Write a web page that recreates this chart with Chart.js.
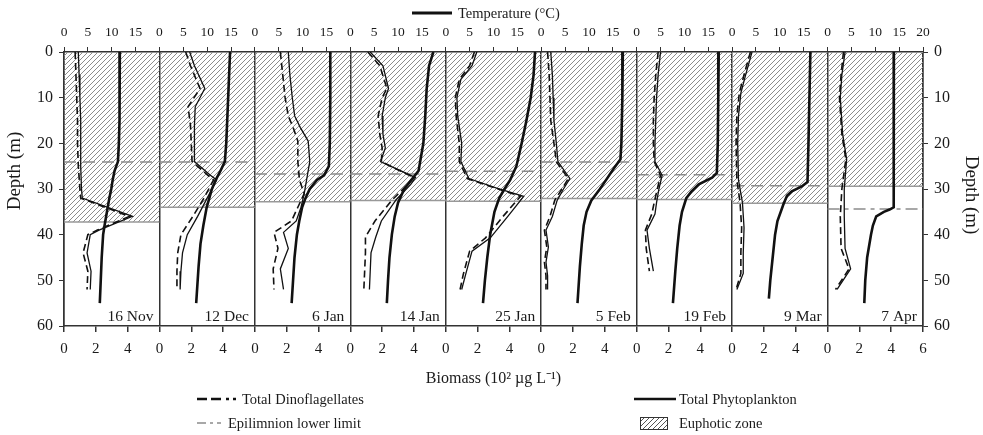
<!DOCTYPE html>
<html>
<head>
<meta charset="utf-8">
<script src="https://cdn.jsdelivr.net/npm/chart.js@4.4.1/dist/chart.umd.min.js"></script>
<style>
  body { margin: 0; background: #fff; }
  #wrap { position: relative; width: 983px; height: 435px; font-family: 'Liberation Serif', serif; color: #1a1a1a; }
  #chart { position: absolute; left: 0; top: 0; }
  .lg { position: absolute; display: flex; align-items: center; height: 16px; font-size: 14.5px; white-space: nowrap; }
</style>
</head>
<body>
<div id="wrap">
  <canvas id="chart" width="983" height="435"></canvas>

  <div class="lg" style="left:412px; top:5px;">
    <svg width="40" height="10"><line x1="0" y1="5" x2="40" y2="5" stroke="#111" stroke-width="3"/></svg>
    <span style="margin-left:6px">Temperature (°C)</span>
  </div>
  <div class="lg" style="left:197px; top:391px;">
    <svg width="39" height="10"><line x1="0" y1="5" x2="39" y2="5" stroke="#111" stroke-width="2.5" stroke-dasharray="10 4 10 5 3 4"/></svg>
    <span style="margin-left:6px">Total Dinoflagellates</span>
  </div>
  <div class="lg" style="left:197px; top:415px;">
    <svg width="24" height="10"><line x1="0" y1="5" x2="24" y2="5" stroke="#8c8c8c" stroke-width="1.5" stroke-dasharray="9 4 3 4"/></svg>
    <span style="margin-left:7px">Epilimnion lower limit</span>
  </div>
  <div class="lg" style="left:634px; top:391px;">
    <svg width="42" height="10"><line x1="0" y1="5" x2="42" y2="5" stroke="#111" stroke-width="2.5"/></svg>
    <span style="margin-left:3px">Total Phytoplankton</span>
  </div>
  <div class="lg" style="left:640px; top:415px;">
    <canvas id="swatch" width="28" height="13"></canvas>
    <span style="margin-left:11px">Euphotic zone</span>
  </div>
</div>

<script>
// --- DADOS ---
const dates = ['16 Nov', '12 Dec', '6 Jan', '14 Jan', '25 Jan', '5 Feb', '19 Feb', '9 Mar', '7 Apr'];
const euphoticDepth = [37.2, 34.0, 32.8, 32.5, 32.7, 32.1, 32.3, 33.1, 29.4];
const epilimnionDepth = [24.1, 24.1, 26.7, 26.7, 26.1, 24.1, 26.9, 29.3, 34.4];

const biomassTicks = ['0', '2', '4', '6'];
const tempTicks = ['0', '5', '10', '15', '20'];
const depthTicks = [0, 10, 20, 30, 40, 50, 60];

// temperature profiles (depth, °C)
const tempDepths = [
  [0, 5, 10, 15, 20, 24, 26, 28, 30, 32, 35, 38, 40, 45, 50, 55],
  [0, 5, 10, 15, 20, 24, 26, 28, 30, 34, 38, 42, 47, 55],
  [0, 10, 20, 25, 27, 28, 30, 32, 34, 37, 40, 45, 50, 55],
  [0, 3, 8, 14, 20, 26, 28, 30, 33, 36, 40, 45, 50, 55],
  [0, 5, 10, 15, 20, 25, 28, 30, 32, 35, 40, 45, 50, 55],
  [0, 10, 20, 23.5, 25.5, 28, 30, 32.5, 35, 38, 42, 47, 55],
  [0, 10, 20, 26.5, 27.5, 29, 30.5, 32, 35, 38, 43, 48, 55],
  [0, 10, 20, 28.5, 29.5, 30.5, 31.5, 33.5, 37, 40, 45, 50, 54],
  [0, 10, 20, 30, 34, 34.5, 35, 36, 38, 40, 45, 50, 55]
];
const tempValues = [
  [11.7, 11.7, 11.6, 11.6, 11.5, 11.3, 10.6, 10.2, 9.9, 9.5, 9.0, 8.5, 8.2, 7.9, 7.7, 7.5],
  [14.8, 14.6, 14.4, 14.2, 14.0, 13.7, 12.8, 11.8, 11.0, 9.9, 9.2, 8.6, 8.2, 7.7],
  [15.8, 15.8, 15.7, 15.5, 14.5, 13.0, 11.5, 10.6, 9.9, 9.3, 8.8, 8.3, 8.0, 7.7],
  [17.4, 16.5, 16.0, 15.7, 15.3, 14.3, 12.8, 11.3, 10.0, 9.3, 8.7, 8.2, 7.9, 7.65],
  [18.7, 18.4, 17.8, 16.9, 15.9, 14.8, 13.5, 12.3, 11.2, 10.2, 9.3, 8.7, 8.2, 7.8],
  [17.1, 17.0, 16.8, 16.6, 15.2, 13.6, 12.3, 10.5, 9.5, 8.9, 8.5, 8.1, 7.6],
  [17.2, 17.1, 17.0, 16.8, 15.8, 13.0, 11.5, 10.4, 9.5, 9.0, 8.5, 8.1, 7.6],
  [16.4, 16.2, 16.0, 15.8, 14.5, 12.5, 11.5, 10.7, 9.5, 9.0, 8.5, 8.0, 7.7],
  [13.9, 13.9, 13.9, 13.85, 13.8, 13.0, 11.8, 10.2, 9.5, 9.1, 8.3, 7.9, 7.7]
];

// biomass profiles (depth, 10^2 µg/L)
const sampleDepths = [
  [0, 5, 10, 15, 20, 25, 30, 32, 36, 39, 40, 44, 48, 52],
  [0, 3, 8, 12, 16, 20, 24, 27, 28, 32, 36, 40, 44, 48, 52],
  [0, 5, 10, 14, 16.5, 19.5, 24, 28, 31, 34, 37, 39.5, 43, 47.5, 52],
  [0, 3, 8, 10, 14, 18, 21, 24, 27.5, 29, 32.5, 37, 40.5, 44, 48, 52],
  [0, 3, 6, 10, 14, 20, 24, 27.7, 29.8, 31.6, 36, 40.7, 43.6, 48.7, 52],
  [0, 5, 10, 15, 20, 24, 27.7, 30, 32.5, 36, 39, 42.7, 46, 49, 52],
  [0, 5, 10, 15, 20, 24, 27, 30, 33, 35.5, 39, 43, 48],
  [0, 5, 9, 14, 20, 28, 33, 38.5, 44, 48.5, 52],
  [0, 5, 10, 18, 23.5, 30, 36, 43, 47.5, 52]
];
const phytoBiomass = [
  [0.9, 0.95, 1.0, 1.05, 1.05, 1.05, 1.1, 1.15, 4.3, 2.2, 1.65, 1.45, 1.7, 1.65],
  [1.9, 2.2, 2.85, 2.25, 2.2, 2.2, 2.2, 3.2, 3.6, 3.0, 2.4, 1.75, 1.45, 1.35, 1.3],
  [2.1, 2.2, 2.35, 2.5, 2.85, 3.35, 3.45, 3.25, 3.1, 2.9, 2.6, 1.8, 2.1, 1.6, 1.8],
  [1.25, 2.05, 2.4, 2.2, 2.0, 2.05, 2.2, 1.9, 4.1, 3.8, 2.85, 1.95, 1.6, 1.3, 1.25, 1.2],
  [1.95, 1.65, 0.95, 0.7, 0.75, 1.0, 0.95, 1.45, 3.2, 4.9, 3.9, 2.8, 1.65, 1.25, 1.0],
  [0.6, 0.7, 0.75, 0.8, 0.95, 1.05, 1.8, 1.4, 1.0, 0.7, 0.3, 0.45, 0.3, 0.4, 0.4],
  [1.5, 1.35, 1.25, 1.2, 1.15, 1.15, 1.6, 1.4, 1.25, 1.15, 0.65, 0.8, 1.05],
  [1.25, 0.85, 0.55, 0.4, 0.35, 0.4, 0.65, 0.75, 0.7, 0.7, 0.3],
  [1.1, 0.9, 0.8, 0.95, 1.2, 1.05, 1.05, 1.1, 1.45, 0.6]
];
const dinoBiomass = [
  [0.7, 0.75, 0.8, 0.85, 0.85, 0.9, 1.0, 1.05, 4.1, 2.1, 1.5, 1.2, 1.5, 1.45],
  [1.65, 1.95, 2.55, 1.8, 1.95, 2.0, 2.05, 3.05, 3.4, 2.8, 2.1, 1.35, 1.15, 1.1, 1.1],
  [1.6, 1.75, 1.9, 2.1, 2.4, 2.7, 2.7, 2.8, 3.1, 2.7, 2.3, 1.2, 1.45, 1.15, 1.2],
  [1.1, 1.85, 2.3, 2.0, 1.75, 1.85, 2.0, 1.95, 4.0, 3.6, 2.6, 1.55, 0.95, 0.95, 0.9, 0.85],
  [1.8, 1.5, 0.85, 0.6, 0.65, 0.85, 0.85, 1.35, 3.1, 4.7, 3.6, 2.5, 1.5, 1.1, 0.9],
  [0.4, 0.5, 0.55, 0.6, 0.8, 0.95, 1.7, 1.3, 0.85, 0.55, 0.2, 0.35, 0.2, 0.3, 0.3],
  [1.35, 1.2, 1.1, 1.05, 1.05, 1.1, 1.5, 1.3, 1.1, 0.95, 0.55, 0.6, 0.8],
  [1.15, 0.75, 0.45, 0.3, 0.25, 0.3, 0.5, 0.6, 0.55, 0.55, 0.25],
  [1.0, 0.85, 0.75, 0.9, 1.15, 0.9, 0.8, 0.85, 1.35, 0.5]
];

const BIO_MAX = 6;   // biomass range per panel
const TEMP_MAX = 20; // temperature range per panel
const FONT = 'Liberation Serif';
const INK = '#1a1a1a';

// --- HACHURA (zona eufótica) ---
function makeHatch(size, color) {
  const c = document.createElement('canvas');
  c.width = size; c.height = size;
  const g = c.getContext('2d');
  g.strokeStyle = color;
  g.lineWidth = 1;
  g.beginPath();
  g.moveTo(0, size); g.lineTo(size, 0);
  g.moveTo(-1, 1); g.lineTo(1, -1);
  g.moveTo(size - 1, size + 1); g.lineTo(size + 1, size - 1);
  g.stroke();
  return g.createPattern(c, 'repeat');
}
const hatch = makeHatch(5, '#8c8c8c');

// legend swatch
(() => {
  const sw = document.getElementById('swatch');
  const g = sw.getContext('2d');
  g.fillStyle = makeHatch(5, '#555');
  g.fillRect(0, 0, sw.width, sw.height);
  g.strokeStyle = '#333';
  g.strokeRect(0.5, 0.5, sw.width - 1, sw.height - 1);
})();

// --- DATASETS ---
const datasets = [];
dates.forEach((d, p) => {
  const x0 = p * BIO_MAX;
  datasets.push({
    label: 'Euphotic zone',
    data: [{ x: x0, y: euphoticDepth[p] }, { x: x0 + BIO_MAX, y: euphoticDepth[p] }],
    borderColor: '#999', borderWidth: 1.5,
    backgroundColor: hatch, fill: { value: 0 }, order: 5
  });
  datasets.push({
    label: 'Epilimnion lower limit',
    data: [{ x: x0, y: epilimnionDepth[p] }, { x: x0 + BIO_MAX, y: epilimnionDepth[p] }],
    borderColor: '#8c8c8c', borderWidth: 1.5, borderDash: p === 8 ? [12, 5, 4, 5] : [12, 7],
    fill: false, order: 4
  });
  datasets.push({
    label: 'Total Phytoplankton',
    data: sampleDepths[p].map((z, i) => ({ x: x0 + phytoBiomass[p][i], y: z })),
    borderColor: '#111', borderWidth: 1.3, fill: false, order: 2
  });
  datasets.push({
    label: 'Total Dinoflagellates',
    data: sampleDepths[p].map((z, i) => ({ x: x0 + dinoBiomass[p][i], y: z })),
    borderColor: '#111', borderWidth: 1.6, borderDash: [7, 4], fill: false, order: 2
  });
  datasets.push({
    label: 'Temperature',
    xAxisID: 'x2',
    data: tempDepths[p].map((z, i) => ({ x: p * TEMP_MAX + tempValues[p][i], y: z })),
    borderColor: '#111', borderWidth: 2.6, fill: false, order: 1
  });
});

// --- PLUGINS: datas e títulos de profundidade ---
const panelText = {
  id: 'panelText',
  afterDraw(chart) {
    const { ctx, chartArea, scales: { x } } = chart;
    ctx.save();
    ctx.fillStyle = INK;
    ctx.font = `15.5px "${FONT}"`;
    ctx.textAlign = 'right';
    ctx.textBaseline = 'alphabetic';
    dates.forEach((d, p) => {
      ctx.fillText(d, x.getPixelForValue((p + 1) * BIO_MAX) - 6, chartArea.bottom - 5);
    });
    ctx.font = `19px "${FONT}"`;
    ctx.textAlign = 'center';
    ctx.textBaseline = 'middle';
    ctx.translate(15, 171);
    ctx.rotate(-Math.PI / 2);
    ctx.fillText('Depth (m)', 0, 0);
    ctx.restore();
    ctx.save();
    ctx.fillStyle = INK;
    ctx.font = `19px "${FONT}"`;
    ctx.textAlign = 'center';
    ctx.textBaseline = 'middle';
    ctx.translate(971, 195);
    ctx.rotate(Math.PI / 2);
    ctx.fillText('Depth (m)', 0, 0);
    ctx.restore();
  }
};

const depthAxis = (pos, w) => ({
  type: 'linear', position: pos, reverse: true, min: 0, max: 60,
  ticks: {
    stepSize: 10, padding: 6, color: INK, font: { family: FONT, size: 16 },
    callback: v => depthTicks.includes(v) ? String(v) : ''
  },
  grid: { drawOnChartArea: false, tickColor: '#333', tickLength: 5 },
  border: { color: '#333', width: 1.5 },
  afterFit: s => { s.width = w; }
});

new Chart(document.getElementById('chart'), {
  type: 'line',
  data: { datasets },
  options: {
    responsive: false,
    animation: false,
    layout: { padding: 0 },
    elements: { point: { radius: 0 }, line: { tension: 0 } },
    plugins: { legend: { display: false }, tooltip: { enabled: false } },
    scales: {
      x: {
        type: 'linear', position: 'bottom', min: 0, max: dates.length * BIO_MAX,
        ticks: {
          stepSize: 2, autoSkip: false, maxRotation: 0, padding: 8, color: INK,
          font: { family: FONT, size: 15 },
          callback: v => v === dates.length * BIO_MAX ? biomassTicks[3] : biomassTicks[(v % BIO_MAX) / 2]
        },
        grid: {
          color: c => (c.tick && c.tick.value % BIO_MAX === 0) ? '#333' : 'rgba(0,0,0,0)',
          lineWidth: 1.5, tickColor: '#333', tickLength: 6
        },
        border: { color: '#333', width: 1.5 },
        title: {
          display: true, text: 'Biomass (10² µg L⁻¹)', color: INK,
          font: { family: FONT, size: 16 }, padding: { top: 0, bottom: 47 }
        },
        afterFit: s => { s.height = 109; }
      },
      x2: {
        type: 'linear', position: 'top', min: 0, max: dates.length * TEMP_MAX,
        ticks: {
          stepSize: 5, autoSkip: false, maxRotation: 0, padding: 6, color: INK,
          font: { family: FONT, size: 13.5 },
          callback: v => v === dates.length * TEMP_MAX ? tempTicks[4] : tempTicks[(v % TEMP_MAX) / 5]
        },
        grid: { drawOnChartArea: false, tickColor: '#333', tickLength: 5 },
        border: { color: '#333', width: 1.5 },
        afterFit: s => { s.height = 52; }
      },
      y: depthAxis('left', 64),
      y2: depthAxis('right', 60)
    }
  },
  plugins: [panelText]
});
</script>
</body>
</html>
